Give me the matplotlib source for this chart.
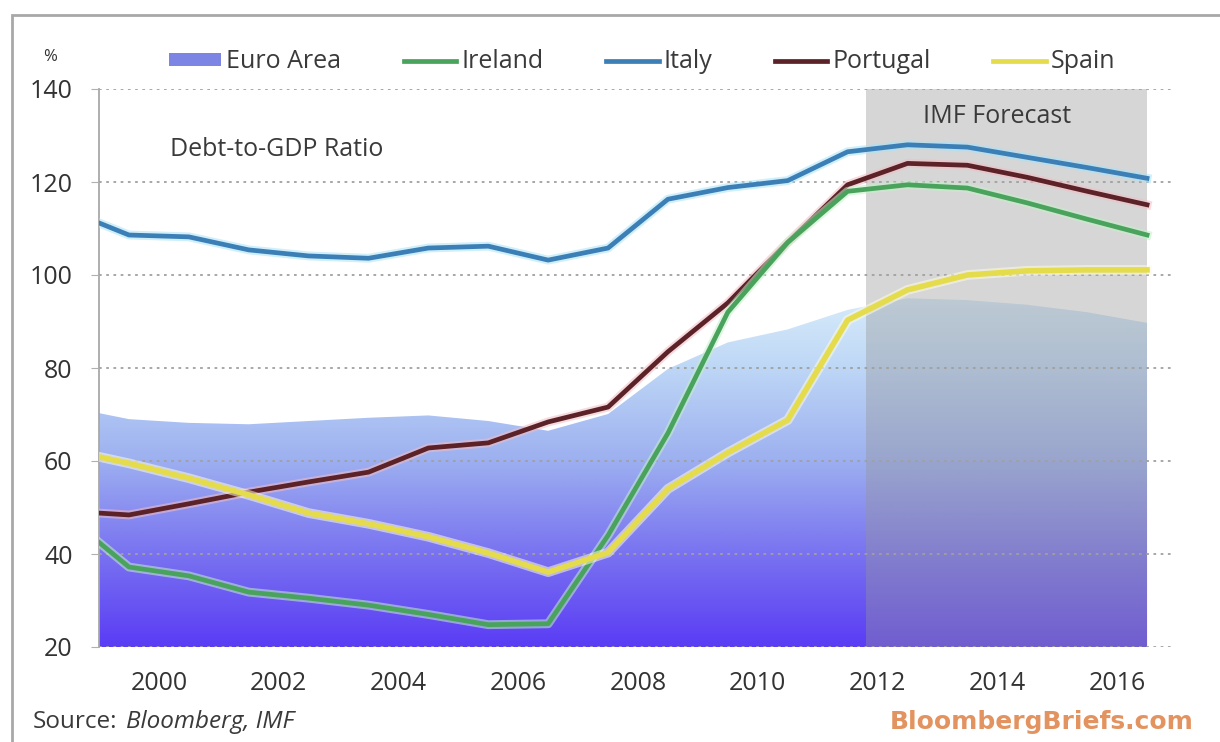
import numpy as np
import matplotlib
matplotlib.use("Agg")
import matplotlib.pyplot as plt
import matplotlib.patheffects as pe
from matplotlib.colors import LinearSegmentedColormap
from matplotlib.patches import Patch, Rectangle
from matplotlib.lines import Line2D

plt.rcParams['font.family'] = ['Open Sans', 'DejaVu Sans']

# first point sits on the left edge, the rest are mid-year values
years = [1999.0] + [y + 0.5 for y in range(1999, 2017)]

euro_area = [70.3, 69.0, 68.2, 67.9, 68.6, 69.3, 69.8, 68.6, 66.5, 70.1,
             79.8, 85.5, 88.3, 92.5, 95.0, 94.6, 93.6, 92.0, 89.7]
ireland = [42.5, 37.2, 35.3, 31.8, 30.5, 29.0, 27.0, 24.8, 25.0, 44.0,
           66.0, 92.0, 107.0, 118.0, 119.4, 118.7, 115.5, 112.0, 108.6]
italy = [111.2, 108.6, 108.2, 105.4, 104.1, 103.6, 105.8, 106.2, 103.2, 105.8,
         116.3, 118.8, 120.3, 126.5, 128.0, 127.5, 125.3, 123.1, 120.8]
portugal = [48.8, 48.4, 50.8, 53.3, 55.5, 57.6, 62.8, 63.9, 68.4, 71.6,
            83.5, 94.0, 107.0, 119.4, 124.0, 123.6, 121.0, 118.0, 115.1]
spain = [60.9, 59.5, 56.3, 52.7, 48.8, 46.5, 43.7, 40.2, 36.1, 40.3,
         54.0, 61.8, 68.8, 90.3, 96.8, 100.0, 100.9, 101.1, 101.1]

forecast_start, forecast_end = 2011.8, 2016.5
xticks = list(range(2000, 2017, 2))
yticks = list(range(20, 141, 20))

fig = plt.figure(figsize=(12.2, 7.42), dpi=100)
ax = fig.add_axes([99 / 1220, 1 - 647 / 742, 1075 / 1220, 558 / 742])

# euro area: vertical gradient clipped to the area under the curve
grad_cmap = LinearSegmentedColormap.from_list(
    'ea', [(0.0, '#5a3cf5'), (0.27, '#7a74f0'), (0.53, '#9db0f0'),
           (0.8, '#bfd8f6'), (1.0, '#d8ecfa')])
poly = ax.fill_between(years, euro_area, 20, facecolor='none', edgecolor='none')
grad = np.linspace(0, 1, 256).reshape(-1, 1)
im = ax.imshow(grad, extent=[years[0], years[-1], 20, 96], origin='lower',
               cmap=grad_cmap, aspect='auto', zorder=1, interpolation='bilinear')
im.set_clip_path(poly.get_paths()[0], transform=ax.transData)

ax.axvspan(forecast_start, forecast_end, color='#959595', alpha=0.38, lw=0, zorder=1.5)
ax.text(2014.0, 134, 'IMF Forecast', ha='center', va='center', fontsize=18,
        color='#3a3a3a')


def draw(vals, color, glow, lw=3.4):
    ax.plot(years, vals, color=color, lw=lw, zorder=3, solid_joinstyle='round',
            path_effects=[pe.Stroke(linewidth=lw + 3, foreground=glow, alpha=0.55),
                          pe.Normal()])


draw(italy, '#3b7fb6', '#a8e2f8')
draw(portugal, '#5b2228', '#f2bcc4')
draw(ireland, '#4aa35c', '#c4f0c8')
draw(spain, '#e4dc4c', '#fffbe0', lw=4.0)

ax.set_xlim(1999, 2016.95)
ax.set_ylim(20, 140)
ax.set_xticks(xticks)
ax.set_yticks(yticks)
ax.set_axisbelow(False)
ax.yaxis.grid(True, linestyle=(0, (1.5, 2.5)), color='#a0a0a0', lw=1.3)
ax.tick_params(axis='y', length=6, color='#b0b0b0', pad=13, labelsize=18,
               labelcolor='#333333')
ax.tick_params(axis='x', length=0, pad=17, labelsize=18, labelcolor='#333333')
for s in ['top', 'right', 'bottom']:
    ax.spines[s].set_visible(False)
ax.spines['left'].set_color('#a8a8a8')
ax.spines['left'].set_linewidth(1.3)
ax.patch.set_alpha(0)

ax.text(0.066, 0.891, 'Debt-to-GDP Ratio', transform=ax.transAxes, fontsize=18,
        color='#3a3a3a', va='center')
fig.text(50 / 1220, 1 - 57 / 742, '%', fontsize=12, color='#333333',
         ha='center', va='center')

handles = [Patch(facecolor='#7c84e4', edgecolor='none'),
           Line2D([], [], color='#4aa35c', lw=3.4),
           Line2D([], [], color='#3b7fb6', lw=3.4),
           Line2D([], [], color='#5b2228', lw=3.4),
           Line2D([], [], color='#e4dc4c', lw=3.4)]
labels = ['Euro Area', 'Ireland', 'Italy', 'Portugal', 'Spain']
leg = fig.legend(handles, labels, loc='center', ncol=5, frameon=False,
                 bbox_to_anchor=(642 / 1220, 1 - 62 / 742), fontsize=18,
                 handlelength=2.1, handleheight=0.4, handletextpad=0.2,
                 columnspacing=2.5)
for t in leg.get_texts():
    t.set_color('#3a3a3a')

fig.text(33 / 1220, 1 - 722 / 742, 'Source:', fontsize=17.5, color='#3a3a3a',
         va='center')
fig.text(126 / 1220, 1 - 722 / 742, 'Bloomberg, IMF', fontsize=17.5, color='#3a3a3a',
         va='center', style='italic')
fig.text(1194 / 1220, 1 - 722 / 742, 'BloombergBriefs.com', fontsize=18,
         color='#e3935f', va='center', ha='right', fontweight='bold',
         family=['DejaVu Sans'])

# outer frame
fig.patches.append(Rectangle((12 / 1220, -0.1), 1.2, 0.1 + 1 - 15 / 742,
                             transform=fig.transFigure, fill=False,
                             edgecolor='#a8a8a8', lw=2))

fig.savefig('out.png', dpi=100)
